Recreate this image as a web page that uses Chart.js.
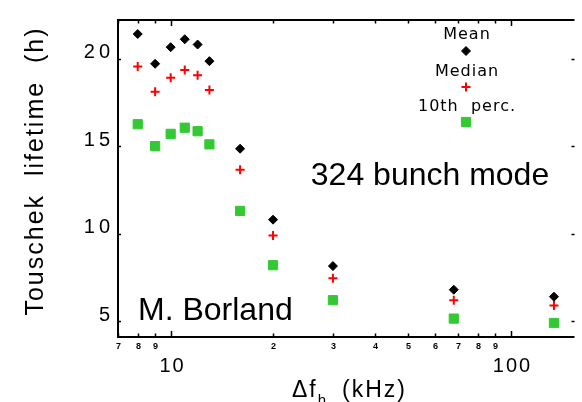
<!DOCTYPE html>
<html>
<head>
<meta charset="utf-8">
<script src="https://cdn.jsdelivr.net/npm/chart.js@4.4.0/dist/chart.umd.min.js"></script>
<style>
  html, body { margin: 0; padding: 0; background: #fff; }
  #wrap { width: 582px; height: 402px; }
</style>
</head>
<body>
<div id="wrap"><canvas id="touschek" width="582" height="402"></canvas></div>
<script>
// horizontal frequency offset (kHz)
var freqs = [8, 9, 10, 11, 12, 13, 16, 20, 30, 68, 134];
// Touschek lifetime (h)
var meanLife   = [21.4, 19.7, 20.65, 21.1, 20.8, 19.85, 14.85, 10.8, 8.15, 6.8, 6.4];
var medianLife = [19.55, 18.1, 18.9, 19.35, 19.05, 18.2, 13.65, 9.9, 7.45, 6.2, 5.9];
var perc10Life = [16.25, 15.0, 15.7, 16.05, 15.85, 15.1, 11.3, 8.2, 6.2, 5.15, 4.9];

var xTicks = [7, 8, 9, 10, 20, 30, 40, 50, 60, 70, 80, 90, 100];
var xMajor = [10, 100];
var yTicks = [5, 10, 15, 20];

var FONT = "'Liberation Sans', Arial, sans-serif";

function pair(vals) {
    var out = [];
    for (let i = 0; i < freqs.length; i++) {
        out.push({ x: freqs[i], y: vals[i] });
    }
    return out;
}

function marker(ctx, ds, x, y) {
    var opts = {
        pointStyle: ds.pointStyle,
        radius: ds.pointRadius,
        rotation: 0,
        borderWidth: ds.borderWidth
    };
    ctx.save();
    ctx.fillStyle = ds.backgroundColor;
    ctx.strokeStyle = ds.borderColor;
    ctx.lineWidth = ds.borderWidth;
    Chart.helpers.drawPoint(ctx, opts, x, y);
    ctx.restore();
}

//frame, inward ticks, x labels, titles and notes
const decor = {
    id: 'decor',
    afterDraw(chart) {
        const ctx = chart.ctx;
        const a = chart.chartArea;
        const x = chart.scales.x, y = chart.scales.y;
        ctx.save();
        ctx.strokeStyle = '#000';
        ctx.fillStyle = '#000';
        ctx.lineCap = 'butt';

        ctx.lineWidth = 2;
        ctx.beginPath();
        ctx.moveTo(a.right, a.top);
        ctx.lineTo(a.left, a.top);
        ctx.lineTo(a.left, a.bottom);
        ctx.lineTo(a.right, a.bottom);
        ctx.stroke();

        ctx.lineWidth = 1.5;
        ctx.textAlign = 'center';
        x.ticks.forEach(t => {
            const px = Math.round(x.getPixelForValue(t.value)) + 0.5;
            const major = xMajor.indexOf(t.value) >= 0;
            const len = major ? 6 : 3.5;
            ctx.beginPath();
            ctx.moveTo(px, a.bottom);
            ctx.lineTo(px, a.bottom - len);
            ctx.moveTo(px, a.top);
            ctx.lineTo(px, a.top + len);
            ctx.stroke();
            if (major) {
                ctx.font = '20px ' + FONT;
                ctx.letterSpacing = '2px';
                ctx.fillText(String(t.value), px + 1, 372);
            } else {
                ctx.font = 'bold 9px ' + FONT;
                ctx.letterSpacing = '0px';
                ctx.fillText(String(t.value)[0], px, 349);
            }
        });

        y.ticks.forEach(t => {
            const py = Math.round(y.getPixelForValue(t.value)) + 0.5;
            ctx.beginPath();
            ctx.moveTo(a.left, py);
            ctx.lineTo(a.left + 3, py);
            ctx.moveTo(a.right, py);
            ctx.lineTo(a.right - 3, py);
            ctx.stroke();
        });

        // y title
        ctx.save();
        ctx.translate(43, 171);
        ctx.rotate(-Math.PI / 2);
        ctx.font = '25px ' + FONT;
        ctx.letterSpacing = '2px';
        ctx.textAlign = 'center';
        ctx.fillText('Touschek  lifetime  (h)', 0, 0);
        ctx.restore();

        // x title
        ctx.textAlign = 'left';
        ctx.font = '23px ' + FONT;
        ctx.letterSpacing = '2px';
        ctx.fillText('\u0394f', 292, 397);
        const w = ctx.measureText('\u0394f').width;
        ctx.font = '15px ' + FONT;
        ctx.fillText('h', 292 + w, 405);
        ctx.font = '23px ' + FONT;
        ctx.fillText('(kHz)', 342, 397);

        // notes
        ctx.letterSpacing = '0px';
        ctx.font = '32px ' + FONT;
        ctx.textAlign = 'center';
        ctx.fillText('324 bunch mode', 430, 185);
        ctx.textAlign = 'left';
        ctx.fillText('M. Borland', 138, 320);

        // legend
        const ds = chart.data.datasets;
        const rows = [[39, 51], [76, 87], [111, 122]];
        ctx.font = "16px 'DejaVu Sans', sans-serif";
        ctx.letterSpacing = '1px';
        ctx.textAlign = 'center';
        for (let i = 0; i < ds.length; i++) {
            ctx.fillStyle = '#000';
            ctx.fillText(ds[i].label, 467, rows[i][0]);
            marker(ctx, ds[i], 466, rows[i][1]);
        }
        ctx.restore();
    }
};

var config = {
    type: 'scatter',
    data: {
        datasets: [{
            label: 'Mean',
            data: pair(meanLife),
            pointStyle: 'rectRot',
            pointRadius: 4.5,
            backgroundColor: '#000000',
            borderColor: '#000000',
            borderWidth: 1
        }, {
            label: 'Median',
            data: pair(medianLife),
            pointStyle: 'cross',
            pointRadius: 4.5,
            backgroundColor: '#ff0000',
            borderColor: '#ff0000',
            borderWidth: 2
        }, {
            label: '10th  perc.',
            data: pair(perc10Life),
            pointStyle: 'rect',
            pointRadius: 6.5,
            backgroundColor: '#33c933',
            borderColor: '#33c933',
            borderWidth: 1
        }]
    },
    options: {
        responsive: false,
        animation: false,
        events: [],
        layout: { padding: { top: 12, right: 0, bottom: 0, left: 0 } },
        plugins: {
            legend: { display: false },
            tooltip: { enabled: false }
        },
        scales: {
            x: {
                type: 'logarithmic',
                min: 7,
                max: 154,
                afterBuildTicks: s => { s.ticks = xTicks.map(v => ({ value: v })); },
                afterFit: s => { s.height = 65; },
                ticks: { display: false },
                grid: { display: false, drawTicks: false },
                border: { display: false }
            },
            y: {
                type: 'linear',
                min: 4.1,
                max: 22.2,
                afterBuildTicks: s => { s.ticks = yTicks.map(v => ({ value: v })); },
                afterFit: s => { s.width = 118; },
                ticks: {
                    padding: 8,
                    labelOffset: -6,
                    color: '#000',
                    font: { family: FONT, size: 20 },
                    callback: v => String(v).split('').join('\u2009')
                },
                grid: { display: false, drawTicks: false },
                border: { display: false }
            }
        }
    },
    plugins: [decor]
};

new Chart(document.getElementById('touschek'), config);
</script>
</body>
</html>
